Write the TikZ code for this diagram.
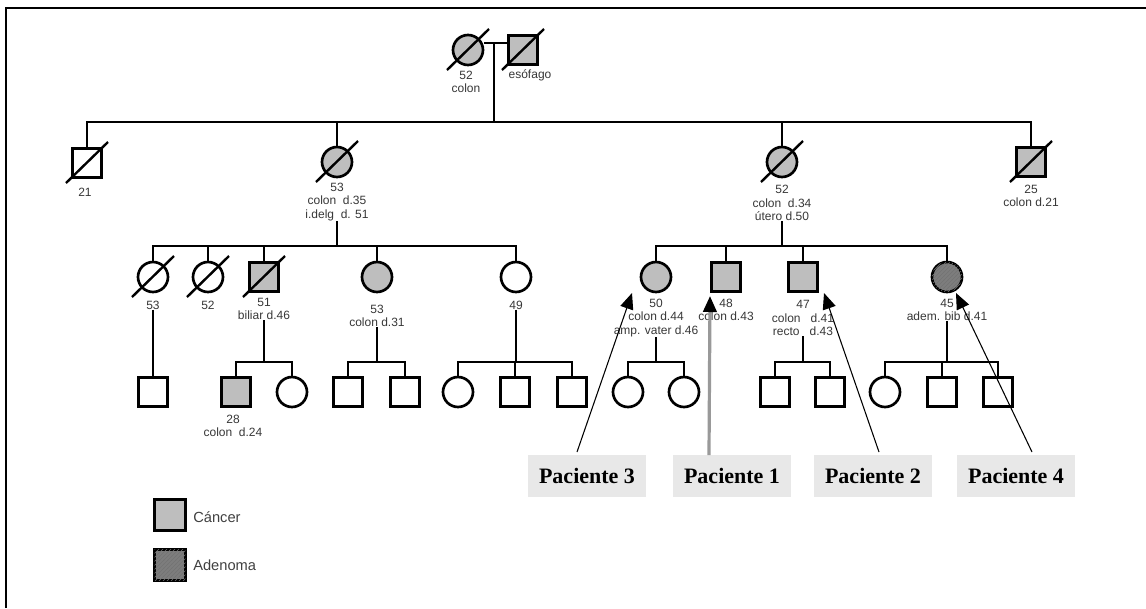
\documentclass[tikz,border=0pt]{standalone}
\usepackage{fontspec}
\setmainfont{Liberation Sans}
\newfontfamily\serifb{Liberation Serif}
\usetikzlibrary{arrows.meta,patterns}
\definecolor{aff}{RGB}{190,190,190}
\definecolor{adn}{RGB}{125,125,125}
\definecolor{pboxc}{RGB}{232,232,232}
\definecolor{lblc}{RGB}{55,55,55}
\newcommand\markdead[1]{\draw[dslash] ([shift={(-21,20)}]#1.center) -- ([shift={(21,-21)}]#1.center);}
\begin{document}
\begin{tikzpicture}[x=0.75pt,y=-0.75pt,
  sq/.style={draw, rectangle, line width=2pt, minimum size=22pt, inner sep=0pt},
  ci/.style={draw, circle, line width=2pt, minimum size=22.5pt, inner sep=0pt},
  affd/.style={fill=aff},
  aden/.style={fill=adn, postaction={pattern=north east lines, pattern color=black!55}},
  link/.style={line width=1.6pt},
  dslash/.style={line width=1.8pt},
  lbl/.style={font=\fontsize{9}{10.2}\selectfont, text=lblc, align=center, inner sep=0pt},
  pbox/.style={fill=pboxc, font=\serifb\bfseries\fontsize{16.5}{19}\selectfont, minimum width=88pt, minimum height=31pt, inner sep=0pt},
  parrow/.style={line width=0.8pt, -{Triangle[length=12pt,width=10pt]}},
  legtxt/.style={font=\fontsize{11}{13}\selectfont, text=black!75, anchor=west, inner sep=0pt},
]
\useasboundingbox (0,0) rectangle (1146,608);
\draw[line width=2.2pt] (6,608) -- (6,8) -- (1146,8);

% Generation I
\node[ci,affd] (i1) at (468,50) {};
\node[sq,affd] (i2) at (523,50) {};
\markdead{i1}\markdead{i2}
\node[lbl] (li1) at (466,82) {52\\colon};
\node[lbl] (li2) at (530,75) {esófago};
\coordinate (m1) at (494,43);
\coordinate (s2) at (494,122);
\draw[link] (i1.east |- m1) -- (i2.west |- m1);
\draw[link] (m1) -- (s2);

% Generation II
\node[sq] (ii1) at (87,163) {};
\node[ci,affd] (ii2) at (337,162) {};
\node[ci,affd] (ii3) at (782,162) {};
\node[sq,affd] (ii4) at (1031,162) {};
\markdead{ii1}\markdead{ii2}\markdead{ii3}\markdead{ii4}
\node[lbl] (lii1) at (85,192) {21};
\node[lbl] (lii2) at (337,202) {53\\colon\ \ d.35\\i.delg\ \ d. 51};
\node[lbl] (lii3) at (782,203) {52\\colon\ \ d.34\\útero d.50};
\node[lbl] (lii4) at (1031,196) {25\\colon d.21};
\draw[link] (ii1.north) -- (ii1.north |- s2) -- (ii4.north |- s2) -- (ii4.north);
\draw[link] (ii2.north) -- (ii2.north |- s2);
\draw[link] (ii3.north) -- (ii3.north |- s2);

% Generation III left
\coordinate (s3l) at (337,246);
\draw[link] (lii2.south) -- (s3l);
\node[ci] (iii1) at (153,277) {};
\node[ci] (iii2) at (208,277) {};
\node[sq,affd] (iii3) at (264,277) {};
\node[ci,affd] (iii4) at (377,277) {};
\node[ci] (iii5) at (516,277) {};
\markdead{iii1}\markdead{iii2}\markdead{iii3}
\draw[link] (iii1.north) -- (iii1.north |- s3l) -- (iii5.north |- s3l) -- (iii5.north);
\draw[link] (iii2.north) -- (iii2.north |- s3l);
\draw[link] (iii3.north) -- (iii3.north |- s3l);
\draw[link] (iii4.north) -- (iii4.north |- s3l);
\node[lbl] (liii1) at (153,305) {53};
\node[lbl] (liii2) at (208,305) {52};
\node[lbl] (liii3) at (264,309) {51\\biliar d.46};
\node[lbl] (liii4) at (377,316) {53\\colon d.31};
\node[lbl] (liii5) at (516,305) {49};

% Generation III right
\coordinate (s3r) at (782,246);
\draw[link] (lii3.south) -- (s3r);
\node[ci,affd] (iii6) at (656,277) {};
\node[sq,affd] (iii7) at (726,277) {};
\node[sq,affd] (iii8) at (803,277) {};
\node[ci,aden] (iii9) at (947,277) {};
\draw[link] (iii6.north) -- (iii6.north |- s3r) -- (iii9.north |- s3r) -- (iii9.north);
\draw[link] (iii7.north) -- (iii7.north |- s3r);
\draw[link] (iii8.north) -- (iii8.north |- s3r);
\node[lbl] (liii6) at (656,318) {50\\colon d.44\\amp. vater d.46};
\node[lbl] (liii7) at (726,310) {48\\colon d.43};
\node[lbl] (liii8) at (803,318) {47\\colon\ \ \ d.41\\recto\ \ \ d.43};
\node[lbl] (liii9) at (947,310) {45\\adem. bib d.41};

% Generation IV
\node[sq] (iv1) at (153,392) {};
\draw[link] (liii1.south) -- (iv1.north);

\coordinate (s4a) at (264,362);
\node[sq,affd] (iv2) at (236,392) {};
\node[ci] (iv3) at (292,392) {};
\draw[link] (liii3.south) -- (s4a);
\draw[link] (iv2.north) -- (iv2.north |- s4a) -- (iv3.north |- s4a) -- (iv3.north);
\node[lbl] (liv2) at (233,426) {28\\colon\ \ d.24};

\coordinate (s4b) at (377,362);
\node[sq] (iv4) at (348,392) {};
\node[sq] (iv5) at (405,392) {};
\draw[link] (liii4.south) -- (s4b);
\draw[link] (iv4.north) -- (iv4.north |- s4b) -- (iv5.north |- s4b) -- (iv5.north);

\coordinate (s4c) at (516,362);
\node[ci] (iv6) at (458,392) {};
\node[sq] (iv7) at (515,392) {};
\node[sq] (iv8) at (572,392) {};
\draw[link] (liii5.south) -- (s4c);
\draw[link] (iv6.north) -- (iv6.north |- s4c) -- (iv8.north |- s4c) -- (iv8.north);
\draw[link] (iv7.north) -- (iv7.north |- s4c);

\coordinate (s4d) at (656,362);
\node[ci] (iv9) at (628,392) {};
\node[ci] (iv10) at (684,392) {};
\draw[link] (liii6.south) -- (s4d);
\draw[link] (iv9.north) -- (iv9.north |- s4d) -- (iv10.north |- s4d) -- (iv10.north);

\coordinate (s4e) at (803,362);
\node[sq] (iv11) at (775,392) {};
\node[sq] (iv12) at (830,392) {};
\draw[link] (liii8.south) -- (s4e);
\draw[link] (iv11.north) -- (iv11.north |- s4e) -- (iv12.north |- s4e) -- (iv12.north);

\coordinate (s4f) at (947,362);
\node[ci] (iv13) at (885,392) {};
\node[sq] (iv14) at (942,392) {};
\node[sq] (iv15) at (998,392) {};
\draw[link] (liii9.south) -- (s4f);
\draw[link] (iv13.north) -- (iv13.north |- s4f) -- (iv15.north |- s4f) -- (iv15.north);
\draw[link] (iv14.north) -- (iv14.north |- s4f);

% Patients
\node[pbox] (p3) at (587,476) {Paciente 3};
\node[pbox] (p1) at (732,476) {Paciente 1};
\node[pbox] (p2) at (873,476) {Paciente 2};
\node[pbox] (p4) at (1016,476) {Paciente 4};
\coordinate (a3s) at (577,452); \coordinate (a3t) at (632,293);
\coordinate (a1s) at (709,455); \coordinate (a1t) at (710,296);
\coordinate (a2s) at (879,452); \coordinate (a2t) at (824,293);
\coordinate (a4s) at (1032,452); \coordinate (a4t) at (956,293);
\draw[parrow] (a3s) -- (a3t);
\draw[line width=2.4pt, black!40, -{Triangle[length=12pt,width=10pt,color=black]}] (a1s) -- (a1t);
\draw[parrow] (a2s) -- (a2t);
\draw[parrow] (a4s) -- (a4t);

% Legend
\node[sq, affd, line width=2.4pt, minimum size=23pt] (lg1) at (170,515) {};
\node[sq, aden, line width=2.4pt, minimum size=23pt] (lg2) at (170,565) {};
\node[legtxt] (lt1) at (193,517) {Cáncer};
\node[legtxt] (lt2) at (193,565) {Adenoma};
\end{tikzpicture}
\end{document}
